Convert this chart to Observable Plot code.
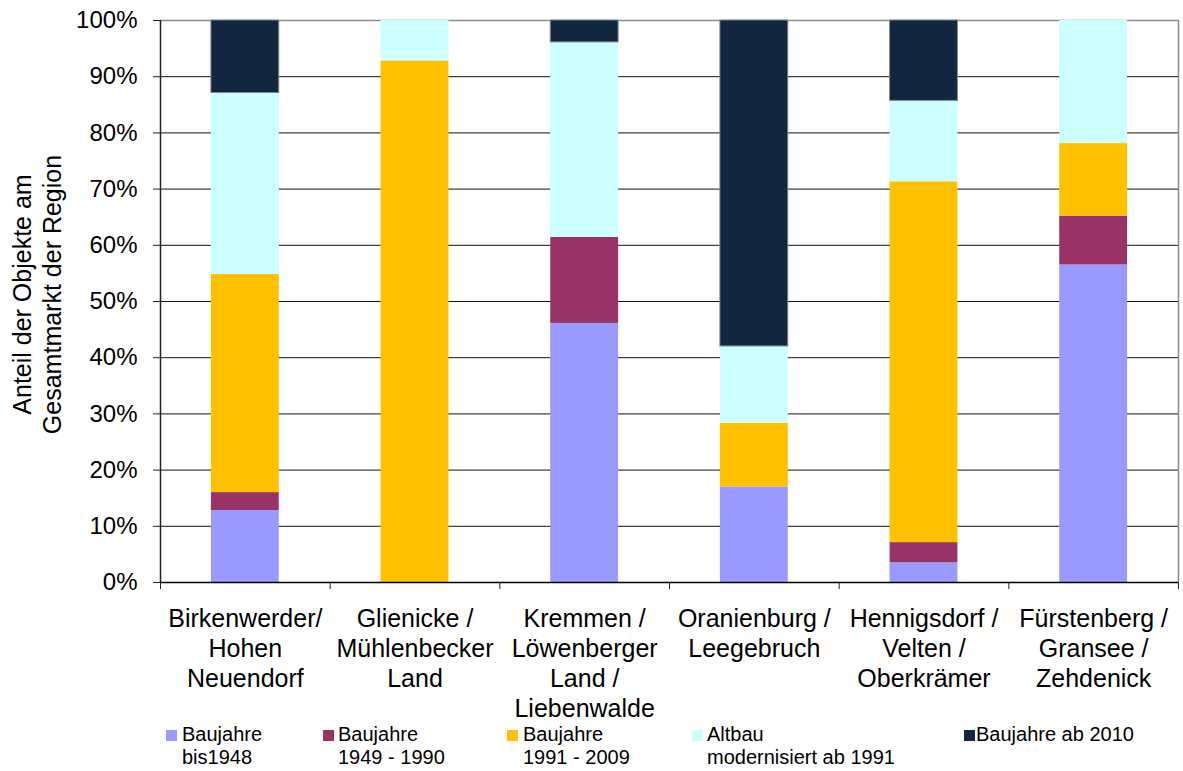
<!DOCTYPE html>
<html>
<head>
<meta charset="utf-8">
<script src="https://cdn.jsdelivr.net/npm/d3@7"></script>
<script src="https://cdn.jsdelivr.net/npm/@observablehq/plot@0.6"></script>
<style>
  html, body { margin: 0; padding: 0; background: #fff; }
  #wrap { position: relative; width: 1183px; height: 771px; font-family: "Liberation Sans", Arial, sans-serif; color: #000; }
  #chart svg { display: block; }
  #legend { position: relative; width: 1183px; height: 49px; }
  .sw { position: absolute; width: 11px; height: 11px; top: 8px; }
  .lt { position: absolute; top: 1px; font-size: 20px; line-height: 23px; white-space: pre; }
</style>
</head>
<body>
<div id="wrap">
  <div id="chart"></div>
  <div id="legend"></div>
</div>
<script>
// Categories (regions)
const categories = [
  "Birkenwerder/\nHohen\nNeuendorf",
  "Glienicke /\nMühlenbecker\nLand",
  "Kremmen /\nLöwenberger\nLand /\nLiebenwalde",
  "Oranienburg /\nLeegebruch",
  "Hennigsdorf /\nVelten /\nOberkrämer",
  "Fürstenberg /\nGransee /\nZehdenick"
];

// Series names (legend)
const seriesNames = [
  "Baujahre\nbis1948",
  "Baujahre\n1949 - 1990",
  "Baujahre\n1991 - 2009",
  "Altbau\nmodernisiert ab 1991",
  "Baujahre ab 2010"
];
const seriesColors = ["#9999FF", "#993366", "#FFC000", "#CCFFFF", "#12273F"];

// Share (%) per series, one value per category
const bis1948   = [12.8, 0.0, 46.1, 17.0, 3.5, 56.5];
const bj1949_90 = [3.2, 0.0, 15.3, 0.0, 3.6, 8.7];
const bj1991_09 = [38.8, 92.8, 0.0, 11.3, 64.2, 12.9];
const altbauMod = [32.3, 7.2, 34.7, 13.7, 14.4, 21.9];
const ab2010    = [12.9, 0.0, 3.9, 58.0, 14.3, 0.0];

// Y tick values
const yTicks = [0, 10, 20, 30, 40, 50, 60, 70, 80, 90, 100];

const yTitle = "Anteil der Objekte am\nGesamtmarkt der Region";

const seriesValues = [bis1948, bj1949_90, bj1991_09, altbauMod, ab2010];
const gap = 0.3; // fraction of category slot left empty on each side of a bar
const rows = [];
categories.forEach((c, i) => {
  seriesNames.forEach((s, k) => {
    rows.push({cat: c, i, x1: i + gap, x2: i + 1 - gap, series: s, value: seriesValues[k][i]});
  });
});

const W = 1183, H = 722;
const n = categories.length;
const darkSeries = seriesNames[4];

const chart = Plot.plot({
  width: W,
  height: H,
  marginLeft: 160,
  marginRight: 5,
  marginTop: 20,
  marginBottom: H - 582,
  style: {fontFamily: "'Liberation Sans', Arial, sans-serif", fontSize: "24px", color: "#000", background: "#fff"},
  x: {type: "linear", domain: [0, n], axis: null},
  y: {domain: [0, 100], axis: null},
  color: {domain: seriesNames, range: seriesColors},
  marks: [
    Plot.ruleY(yTicks.filter(t => t > 0 && t < 100), {stroke: "#111", strokeWidth: 1}),
    Plot.ruleY([100], {stroke: "#8c8c8c", strokeWidth: 1.5}),
    Plot.ruleX([n], {stroke: "#8c8c8c", strokeWidth: 1.5}),
    Plot.rectY(rows, Plot.stackY({
      x1: "x1", x2: "x2", y: "value", fill: "series",
      stroke: d => d.series === darkSeries ? "#7d8899" : "none",
      strokeWidth: 1
    })),
    Plot.ruleX([0], {stroke: "#222", strokeWidth: 1.5}),
    Plot.ruleY([0], {stroke: "#000", strokeWidth: 1.5}),
    Plot.axisY({ticks: yTicks, tickSize: 7, tickPadding: 16, tickFormat: d => d + "%", stroke: "#222", fontSize: 24, label: null}),
    Plot.axisX({ticks: d3.range(0, n + 1), tickSize: 7, tickFormat: () => "", stroke: "#222", label: null}),
    Plot.text(categories, {
      x: (d, i) => i + 0.5, y: 0, text: d => d,
      lineAnchor: "top", dy: 23, fontSize: 25, lineHeight: 1.2, textAnchor: "middle", fill: "#000"
    }),
    Plot.text([yTitle], {
      frameAnchor: "left", rotate: -90, dx: -124, dy: -7,
      fontSize: 25, lineHeight: 1.2, textAnchor: "middle", lineAnchor: "middle", fill: "#000"
    })
  ]
});
document.getElementById("chart").appendChild(chart);

// Legend (HTML, below the SVG)
const legendSwatchX = [166, 323, 507, 692, 964];
const legendTextX = [182, 338, 523, 707, 976];
const legend = document.getElementById("legend");
seriesNames.forEach((s, k) => {
  const sw = document.createElement("div");
  sw.className = "sw";
  sw.style.left = legendSwatchX[k] + "px";
  sw.style.background = seriesColors[k];
  legend.appendChild(sw);
  const t = document.createElement("div");
  t.className = "lt";
  t.style.left = legendTextX[k] + "px";
  t.textContent = s;
  legend.appendChild(t);
});
</script>
</body>
</html>
